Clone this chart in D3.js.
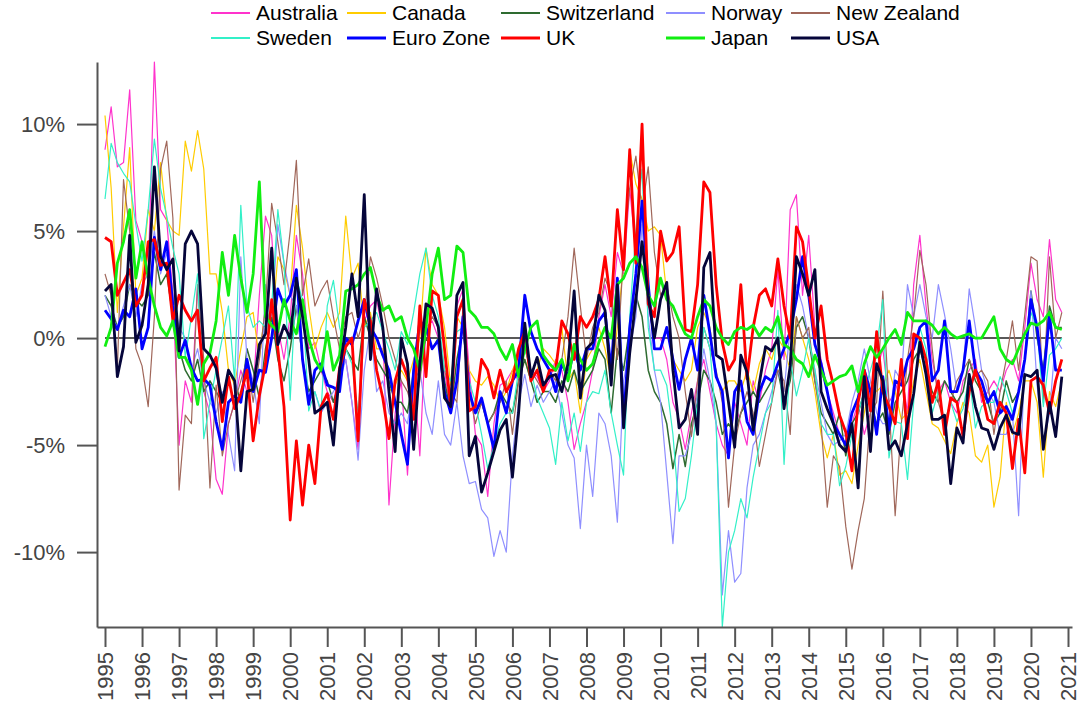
<!DOCTYPE html>
<html>
<head>
<meta charset="utf-8">
<script src="https://cdn.jsdelivr.net/npm/d3@7"></script>
<style>
  body { margin: 0; background: #fff; }
  svg { display: block; font-family: "Liberation Sans", Arial, Helvetica, sans-serif; }
</style>
</head>
<body>
<svg id="chart" width="1081" height="712"></svg>
<script>
// Monthly series sampled every second month, starting January 1995 (six values per year).
const startYear = 1995;
const stepMonths = 2;
const yearTicks = d3.range(1995, 2022);
const pctTicks = [-10, -5, 0, 5, 10];
const seriesNames = ["Australia", "Canada", "Switzerland", "Norway", "New Zealand",
                     "Sweden", "Euro Zone", "UK", "Japan", "USA"];

const australia = [
  8.8, 10.8, 8.0, 8.2, 11.6, 5.5,
  4.5, 3.0, 12.9, 6.0, 5.5, 2.0,
  -5.0, -2.0, -3.0, 2.5, -2.5, -3.5,
  -6.6, -7.3, -4.0, -3.0, -1.5, -2.5,
  -2.5, 2.0, 5.7, 4.8, 0.5, -1.0,
  1.0, 4.8, 3.0, -0.5, -0.2, -1.5,
  -2.5, -3.0, -1.5, -1.0, -3.0, -5.2,
  0.8, 1.5, 1.8, 0.3, -7.8, -3.5,
  -2.0, -6.4, -1.5, -5.5, 0.5, 0.8,
  0.0, -1.5, -3.5, 1.5, 2.3, -1.5,
  -4.5, -5.0, -7.4, -4.0, -2.2, -2.0,
  -1.5, -2.0, 0.0, -1.5, -1.8, -2.5,
  -2.0, -1.0, -1.5, -3.0, -5.2, -4.0,
  -3.0, -1.5, 1.0, 2.5, 1.0, 4.0,
  3.0, 7.0, 4.0, 6.0, 1.5, 0.0,
  0.0, -1.0, -3.0, -3.8, -5.2, -3.5,
  -2.0, -1.0, -2.5, -4.0, -5.0, -5.5,
  -3.0, -4.0, -5.0, -2.0, -3.0, -1.5,
  -0.5, 3.2, -1.0, 6.0, 6.7, 2.0,
  4.8, 0.5, -1.0, -2.5, -3.5, -4.5,
  -5.0, -4.0, -3.0, -4.5, -3.5, -1.5,
  -0.5, -3.0, -2.5, -1.5, -3.5, 2.5,
  4.8, 1.5, -1.0, -2.5, -2.0, -3.0,
  -3.5, -2.0, -1.5, -1.0, -3.0, -2.5,
  -2.0, -2.5, -1.5, -1.0, -2.0, 0.5,
  3.5, 1.8, 1.0, 4.6, 1.8, 1.2
];

const canada = [
  10.4, 7.0, 1.2, 5.2, 8.9, 2.0,
  2.8, 6.0, 5.0, 8.2, 5.5, 5.0,
  4.8, 9.2, 7.8, 9.7, 7.9, 3.0,
  3.0, 1.2, -1.5, -2.2, -0.5, 1.0,
  1.2, -1.0, 1.5, 0.5, 3.8, 3.2,
  2.0, 6.2, 4.2, 1.5, -0.5, 0.5,
  1.2, 0.5, 1.2, 5.7, 2.8, 3.5,
  0.5, 1.2, -0.5, -0.5, -2.5, -2.2,
  -1.5, -2.0, -1.0, 0.0, 4.2, 2.5,
  2.0, 0.5, -2.2, 1.0, 0.5, -1.5,
  -2.0, -2.2, -1.8, -2.2, -3.0, -2.5,
  -1.5, -0.8, -1.0, -2.0, -1.5, -0.5,
  -0.8, -1.2, 0.5, -2.0, -1.5, -3.5,
  -1.0, -0.5, 0.5, -0.5, -2.0, 0.5,
  3.5, 8.8, 7.2, 6.5, 5.0, 5.2,
  4.8, 2.0, -1.0, -1.5, -2.0, -1.5,
  0.5, 1.2, 0.5, -1.8, -2.5, -2.0,
  -2.0, -2.5, -1.5, -2.5, -1.2, -0.5,
  -1.0, 0.0, -0.5, -1.5, 1.0, 0.0,
  -1.0, -2.5, -4.5, -5.6, -4.5, -6.4,
  -6.2, -6.8, -5.0, -3.5, -2.0, -2.5,
  -2.2, -1.5, -2.5, -3.8, -3.5, -2.0,
  -1.0, -2.5, -4.0, -4.2, -4.8, -5.4,
  -4.0, -3.0, -3.5, -5.5, -5.8, -5.0,
  -7.9, -6.5, -3.0, -4.5, -3.5, -2.0,
  -2.0, -3.0, -6.5, -2.5, -3.2, -2.0
];

const switzerland = [
  2.0, 1.5, 0.5, 1.0, 2.5, 1.8,
  1.5, 2.0, 4.0, 2.5, 3.0, 1.0,
  -0.5, -1.5, -2.0, -1.0, -2.5, -2.0,
  -2.5, -3.0, -1.5, -2.0, -3.0, -0.5,
  -1.5, -2.8, -0.5, 1.0, -1.0, -2.0,
  -0.5, 1.5, -1.0, -2.5, -2.0, -1.5,
  -2.0, -3.0, -2.0, -0.5, -1.0, -1.5,
  1.0, 0.0, -1.0, -1.5, -2.0, -3.0,
  -3.0, -3.5, -1.5, -1.0, 0.0, -0.5,
  0.0, -2.0, -3.5, -1.0, 0.5, -2.5,
  -3.5, -3.0, -4.0, -3.5, -2.5, -3.0,
  -3.5, -2.0, -1.0, -2.0, -3.0, -2.5,
  -2.5, -3.0, -2.0, -2.5, -1.5, -2.5,
  -2.0, -1.5, -0.5, -1.0, -3.5, -0.5,
  -1.5, 0.5, 2.0, 1.0, -1.5, -2.5,
  -3.0, -4.0, -6.1, -4.5, -6.0, -4.0,
  -3.0, -1.5, -2.0, -3.0, -4.5, -4.0,
  -4.5, -3.5, -3.0, -2.5, -3.0, -2.5,
  -2.0, -1.5, -3.0, -2.0, 0.5, 1.0,
  0.0, -2.0, -3.5, -4.0, -4.5, -3.5,
  -5.5, -4.0, -3.5, -2.5, -3.0, -4.0,
  -3.5, -4.5, -3.0, -2.5, -2.0, -1.0,
  -0.5, -1.5, -2.5, -3.0, -2.0, -2.5,
  -3.0, -2.5, -1.0, -2.0, -2.5, -3.0,
  -4.0, -3.5, -2.0, -3.0, -2.5, -1.0,
  2.2, 0.0, -1.5, 1.5, 0.5, 0.5
];

const norway = [
  2.0, 1.0, 0.5, 1.5, 2.5, 1.0,
  2.5, 3.0, 5.0, 3.0, 4.0, 2.0,
  0.5, 0.0, -1.5, -0.5, -2.0, -3.0,
  -3.5, -2.5, -4.5, -6.2, 3.8, -1.0,
  -2.0, -4.0, 2.5, 1.0, 5.3, 3.5,
  2.0, 1.5, -1.0, -3.0, -2.5, -3.5,
  -3.0, -2.5, -2.0, -1.0, -3.0, -5.7,
  -1.5, 0.5, -2.5, -2.0, -3.5, -4.0,
  -3.5, -4.0, -2.0, -1.5, -3.5, -4.5,
  -2.0, -4.5, -5.0, -3.0, -5.5, -6.8,
  -6.7, -8.0, -8.4, -10.2, -9.0, -10.0,
  -5.5, -3.0, -1.7, -3.2, -2.2, -3.0,
  -2.5, -2.0, -3.5, -5.0, -5.6, -8.9,
  -5.0, -7.4, -3.5, -4.0, -5.5, -8.6,
  -2.0, -0.5, 1.0, 5.3, 1.0, -1.5,
  -3.0, -6.3, -9.6, -5.5, -5.5, -4.5,
  -2.5, -0.5, -2.0, -4.0, -12.0, -9.0,
  -11.4, -11.0, -7.0, -5.0, -4.5, -3.5,
  -2.5, -1.5, -2.5, 0.5, 2.5, 1.5,
  0.0, -1.5, -3.0, -4.5, -5.0, -4.8,
  -4.5, -3.0, -2.0, -0.5, -2.0, -3.5,
  -4.0, -4.0, -1.5, -2.0, 2.5, 1.0,
  2.5, 1.0, 0.0, 2.5, 1.1, -0.5,
  -2.5, -1.5, 2.3, 0.5, -1.5, -2.5,
  -3.0, -4.5, -4.5, -3.5, -8.3, -1.0,
  2.2, -2.2, -5.0, -3.5, 0.0, -0.5
];

const newZealand = [
  3.0, 2.0, -1.5, 7.4, 5.0, -0.5,
  -1.3, -3.2, 1.0, 7.9, 9.2, 5.6,
  -7.1, -3.6, -4.0, 2.5, -1.0, -7.0,
  -2.2, -5.5, -4.0, -3.0, -2.0, -1.0,
  -3.0, -1.0, 1.5, 6.3, 4.5, 2.5,
  5.0, 8.3, 2.0, 3.7, 1.5, 2.2,
  2.7, 1.0, -0.5, 1.0, 1.2, 0.0,
  1.0, 3.8, 2.8, 1.5, 0.0, -1.0,
  -2.0, -2.5, -3.5, -2.0, 0.2, 1.0,
  0.5, -1.5, -2.5, -3.0, 1.5, -2.5,
  -4.0, -3.0, -4.0, -3.5, -3.0, -2.0,
  -4.5, -2.0, -0.5, -1.5, -2.0, -2.5,
  -1.5, -2.0, -1.0, 1.0, 4.2, 1.5,
  -1.0, 0.5, 1.2, 2.8, 2.0, -1.0,
  4.0, 7.0, 8.5, 6.0, 8.0, 4.0,
  2.0, 2.5, 1.0, 0.0, -2.5, -4.6,
  -2.0, 0.5, -0.5, -1.5, -3.0, -7.9,
  -5.0, -3.5, -2.5, -3.5, -6.0, -4.5,
  -3.0, -1.5, -2.0, -4.5, 1.0, 0.0,
  0.5, -2.0, -4.0, -7.9, -5.5, -6.0,
  -8.8, -10.8, -9.0, -7.5, -3.5, -3.0,
  2.2, -3.0, -8.3, -4.0, -1.0, 1.0,
  4.1, 2.5, -0.5, -3.0, -4.0, -3.0,
  -2.0, -1.5, -1.0, -1.8, -1.5, -2.0,
  -4.5, -2.5, -1.0, 0.8, -1.5, 1.1,
  3.8, 3.6, -3.0, 3.8, 0.0, 1.2
];

const sweden = [
  6.5, 9.1, 8.2, 7.7, 7.3, 5.3,
  3.6, 6.0, 9.3, 7.0, 5.7, 4.2,
  3.0, -0.9, 1.0, 3.0, -4.7, -3.0,
  -1.5, 0.0, 1.5, -2.0, 6.2, 1.5,
  0.5, 0.8, 0.5, 1.5, 6.0, 3.5,
  -2.9, 2.8, 1.8, -3.4, -2.5, -3.4,
  1.5, 2.7, 0.5, -0.5, -1.2, -3.5,
  0.5, 0.8, 1.2, 0.3, -0.5, -1.5,
  0.3, -0.3, 1.2, 3.0, 4.2, 2.0,
  1.0, -1.5, -2.0, 0.3, 0.5, -2.0,
  -3.0, -4.5, -6.1, -5.0, -4.0, -3.5,
  -3.5, -1.5, -0.5, -1.5, -2.8, -3.5,
  -4.2, -5.9, -3.0, -4.8, -3.5, -5.3,
  -3.0, -2.5, -2.6, -1.5, -3.5, -5.0,
  -6.4, 1.0, 5.0, 7.9, 0.5, -1.5,
  -1.5, -2.2, -4.5, -8.1, -7.5, -5.5,
  -3.0, 0.5, -0.5, -4.0, -13.5, -10.0,
  -9.0, -7.5, -8.4, -6.5, -5.0, -3.5,
  -3.0, 1.3, -5.9, -1.0, -2.7, -1.5,
  0.0, -1.5, -4.0, -4.5, -4.5, -6.9,
  -6.0, -4.5, -3.5, -2.5, -1.5, -0.5,
  1.8, -5.6, -3.9, -4.0, -6.6, -3.0,
  0.5, -0.5, -3.5, -2.5, -3.9, -3.0,
  -3.9, -3.3, -1.8, -4.2, -3.2, -3.0,
  -3.0, -1.8, -2.5, -3.5, -2.5, -1.0,
  1.2, 0.5, -3.2, -0.8, -0.5, 0.0
];

const euroZone = [
  1.3, 0.9, 0.4, 1.3, 1.0, 2.3,
  -0.5, 0.5, 4.7, 3.2, 4.5, 1.5,
  -0.9, -0.1, -1.4, -2.0, -1.9, -2.2,
  -3.9, -5.2, -3.0, -2.7, -3.0, -1.0,
  -2.5, -1.5, -1.6, 0.0, 2.3, 1.5,
  2.0, 3.2, -1.0, -3.1, -1.5, -1.2,
  -2.2, -2.3, -2.5, 0.0, -0.3, 0.8,
  1.8, 0.5, 0.0, -0.8, -1.5, -3.0,
  -4.5, -5.9, -1.5, 0.8, 0.5, -0.5,
  -0.1, -2.5, -3.5, -2.0, 1.0, -2.5,
  -3.5, -2.8, -4.0, -5.2, -2.5, -3.5,
  -2.0, -1.5, 2.0, 0.3, -0.5, -1.0,
  -1.5, -2.5, -1.2, -1.8, -0.5, -1.5,
  -0.5, -0.5, 0.8, 1.2, -1.5, 2.8,
  -3.9, 0.5, 3.0, 6.4, 2.5, -0.5,
  -0.5, 0.5, -1.0, -2.4, -1.0, 0.0,
  -1.5, 2.0, 0.2, -1.8, -2.5, -5.6,
  -2.5, -2.0, -3.9, -4.5, -2.5, -1.8,
  -2.0, -1.2, -0.5, 0.3, 1.8, 3.8,
  2.0, -0.3, -1.2, -2.5, -4.0, -4.5,
  -5.0, -3.5, -2.8, -1.5, -2.5, -4.5,
  -1.8, -4.3, -2.0, -2.2, -1.0, -0.5,
  0.5, 0.8, -2.0, -1.5, 0.8, -2.5,
  -2.5, -1.5, 0.8, -1.5, -2.0, -3.0,
  -2.5, -3.5, -3.2, -3.8, -2.5, -1.0,
  1.8, 0.5, -2.0, 1.1, -1.5, -1.5
];

const uk = [
  4.7, 4.5, 2.0, 2.6, 3.2, 1.5,
  2.0, 4.5, 4.6, 3.4, 3.5, 0.8,
  2.0, 1.3, 0.8, 1.3, -2.0, -1.4,
  -0.9, -3.9, -1.8, -3.3, -2.6, -1.5,
  -4.8, -2.7, -1.2, 1.8, -0.5, -3.2,
  -8.5, -4.8, -7.8, -5.0, -6.8, -3.2,
  -2.6, -3.8, -1.4, -0.4, 0.0, -4.8,
  1.8, 0.8, -1.5, -2.8, -4.7, -2.0,
  -1.0, -1.8, -3.8, 1.5, -1.8, 2.2,
  2.0, -0.5, -3.2, 1.0, 1.8, -3.4,
  -3.2, -1.0, -1.5, -2.8, -1.5, -2.5,
  -2.0, -0.5, 0.3, -2.0, -1.5, -2.5,
  -1.5, -1.5, 0.8, 0.2, -1.0, 1.0,
  0.5, 1.0, 1.8, 3.8, 1.5, 6.0,
  3.2, 8.8, 3.5, 10.0, 1.6, 1.0,
  5.0, 3.6, 4.0, 5.2, 0.4, 0.3,
  2.5, 7.3, 6.8, 2.5, -0.2, -1.5,
  -1.0, 2.5, -1.9, 0.5, 2.0, 2.3,
  1.5, 3.7, 1.5, 0.0, 5.2, 4.5,
  2.3, 0.0, 1.5, -1.0, -2.2, -3.6,
  -4.4, -6.2, -3.0, -1.5, -3.4, 0.3,
  -2.5, -3.2, -4.0, -1.0, -4.7, 0.2,
  0.0, -1.0, -3.0, -2.0, -4.5, -2.8,
  -3.0, -4.6, -2.5, -1.5, -2.5, -3.8,
  -4.0, -3.0, -3.5, -6.1, -3.8, -6.3,
  -2.0, -1.8, -2.2, -3.5, -2.0, -1.0
];

const japan = [
  -0.4, 0.5, 3.5, 4.5, 6.0, 2.8,
  4.5, 2.8, 1.5, 0.5, 0.1, 0.8,
  -0.9, -0.9, -1.5, -3.1, -1.2, -0.7,
  0.8, 4.0, 2.0, 4.8, 2.8, 1.2,
  3.0, 7.3, 1.0, 0.6, 0.3, 1.8,
  0.8, 0.2, 1.8, 0.0, -1.0, -1.5,
  0.3, -1.5, -0.8, 2.2, 2.3, 2.5,
  3.0, 3.3, 2.0, 1.3, 1.5, 0.8,
  1.0, 0.0, -0.5, -1.5, 0.5, 3.0,
  4.2, 1.8, 2.0, 4.3, 4.0, 1.3,
  1.0, 0.5, 0.5, 0.2, -0.5, -1.0,
  -0.3, -1.8, -0.5, 0.5, 0.8, -0.8,
  -1.2, -1.5, -1.0, -2.0, -0.3, -1.0,
  -1.5, -1.2, -0.2, 0.5, 0.0, 2.5,
  2.8, 3.5, 3.8, 3.3, 2.0, 1.5,
  2.8, 1.8, 1.5, 0.8, 0.2, 0.0,
  1.0, 1.8, 1.5, 0.5, 0.0, -0.3,
  0.3, 0.5, 0.4, 0.6, 0.1, 0.5,
  0.3, 1.0, -0.3, -0.5, -1.0, -1.2,
  -1.8, -0.8, -1.5, -2.2, -2.0, -1.8,
  -1.7, -1.3, -2.5, -1.2, -0.4, -0.9,
  -0.5, 0.0, 0.4, -0.3, 1.2, 0.8,
  0.8, 0.8, 0.6, 0.2, 0.5, 0.2,
  0.0, 0.1, 0.2, 0.0, 0.0, 0.5,
  1.0, -0.5, -1.0, -1.2, -0.5, 0.2,
  0.7, 0.6, 0.8, 1.2, 0.5, 0.4
];

const usa = [
  2.2, 2.5, -1.8, -0.4, 4.8, -0.2,
  0.6, 2.5, 8.0, 3.8, 3.2, 3.7,
  -0.6, 4.4, 5.0, 4.4, -0.5, -0.8,
  -1.4, -3.0, -1.5, -2.0, -6.2, -2.5,
  -2.4, -0.3, 0.2, 4.2, -0.3, 0.6,
  0.0, 2.8, 1.0, -1.0, -3.5, -3.3,
  -3.0, -5.0, -1.5, 0.5, 3.0, 1.0,
  6.7, -1.0, 2.3, 0.5, -2.5, -5.3,
  0.0, -1.2, -5.2, -1.2, 1.6, 1.4,
  0.5, -2.8, -3.2, 2.0, 2.6, -5.5,
  -4.6, -7.2, -6.3, -5.3, -4.3, -3.8,
  -6.5, -3.5, 0.7, -1.8, -0.9, -2.2,
  -1.8, -1.7, -2.5, -1.2, 2.2, -2.8,
  -0.5, -0.2, 2.0, 1.3, -2.2, 2.5,
  -4.2, -0.7, 1.8, 4.5, 2.0, 0.0,
  1.8, 2.6, -1.5, -4.2, -3.8, -2.4,
  -4.5, 3.3, 4.0, -0.8, -1.0, -3.0,
  -5.1, -0.8, -1.6, -4.3, -2.1, -0.4,
  -0.6, 0.0, -3.3, -1.3, 3.8, 3.0,
  2.0, 3.2, -2.5, -3.3, -4.0, -5.0,
  -5.3, -4.0, -7.0, -1.8, -5.3, -1.2,
  -2.0, -5.2, -4.8, -5.5, -4.0, -2.6,
  -0.2, -1.7, -3.8, -3.8, -3.6, -6.8,
  -4.2, -4.9, -1.7, -3.2, -4.2, -4.3,
  -5.2, -4.2, -3.6, -4.4, -4.5, -1.7,
  -1.8, -1.5, -5.2, -3.0, -4.6, -1.8
];

const seriesValues = [australia, canada, switzerland, norway, newZealand,
                      sweden, euroZone, uk, japan, usa];
const seriesColors = ["#ff33cc", "#ffcc00", "#2e6b30", "#8f8fff", "#a0675a",
                      "#33f0c8", "#0000ff", "#ff0000", "#11ee11", "#05053a"];
const seriesWidths = [1.2, 1.2, 1.5, 1.2, 1.2, 1.2, 2.8, 2.8, 2.8, 2.8];

const svg = d3.select("#chart");

const x = d3.scaleLinear().domain([1994.784, 2021.108]).range([97, 1072]);
const y = d3.scaleLinear().domain([-13.5, 12.9]).range([627, 62]);

const dateOf = i => startYear + (i * stepMonths) / 12;

// Zero reference line across the data span
const lastIndex = d3.max(seriesValues, v => v.length) - 1;
svg.append("line")
  .attr("x1", x(dateOf(0))).attr("x2", x(dateOf(lastIndex)))
  .attr("y1", y(0)).attr("y2", y(0))
  .attr("stroke", "#222").attr("stroke-width", 1.5);

// Series lines
const line = d3.line()
  .x((d, i) => x(dateOf(i)))
  .y(d => y(d));

seriesValues.forEach((vals, k) => {
  svg.append("path")
    .datum(vals)
    .attr("fill", "none")
    .attr("stroke", seriesColors[k])
    .attr("stroke-width", seriesWidths[k])
    .attr("stroke-linejoin", "round")
    .attr("d", line);
});

// Axes
const axisColor = "#555";
const labelColor = "#444";

const yAxis = svg.append("g")
  .attr("transform", `translate(${x.range()[0]},0)`)
  .call(d3.axisLeft(y).tickValues(pctTicks).tickSize(20).tickSizeOuter(0)
    .tickPadding(12).tickFormat(d => d + "%"));

const xAxis = svg.append("g")
  .attr("transform", `translate(0,${y.range()[0]})`)
  .call(d3.axisBottom(x).tickValues(yearTicks).tickSize(20).tickSizeOuter(0)
    .tickFormat(d3.format("d")));

[yAxis, xAxis].forEach(g => {
  g.select(".domain").attr("stroke", axisColor).attr("stroke-width", 2);
  g.selectAll(".tick line").attr("stroke", axisColor).attr("stroke-width", 2);
  g.selectAll(".tick text").attr("fill", labelColor)
    .style("font-size", "22px").style("font-family", "'Liberation Sans', Arial, sans-serif");
});

xAxis.selectAll(".tick text")
  .attr("transform", "rotate(-90)")
  .attr("text-anchor", "end")
  .attr("x", -25)
  .attr("y", 0)
  .attr("dy", "0.35em");

// Legend: two rows of five entries
const legendCols = [211, 347, 501, 666, 791];
const legendRows = [13, 38];
const legend = svg.append("g");
seriesNames.forEach((name, k) => {
  const cx = legendCols[k % 5];
  const cy = legendRows[Math.floor(k / 5)];
  legend.append("line")
    .attr("x1", cx).attr("x2", cx + 39)
    .attr("y1", cy).attr("y2", cy)
    .attr("stroke", seriesColors[k])
    .attr("stroke-width", Math.max(2, seriesWidths[k] + 0.4));
  legend.append("text")
    .attr("x", cx + 45).attr("y", cy)
    .attr("dy", "0.35em")
    .attr("fill", "#000")
    .style("font-size", "21px")
    .text(name);
});
</script>
</body>
</html>
